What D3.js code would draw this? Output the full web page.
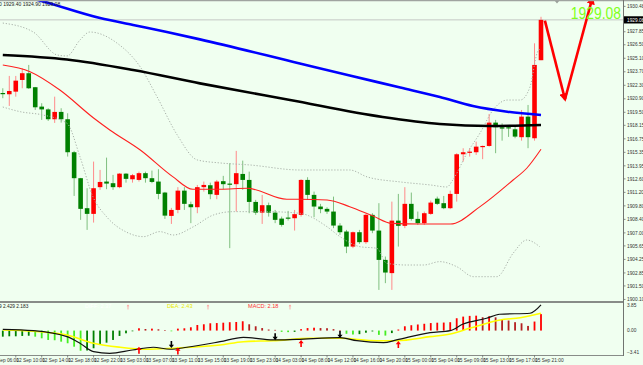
<!DOCTYPE html>
<html>
<head>
<meta charset="utf-8">
<script src="https://cdn.jsdelivr.net/npm/d3@7"></script>
<style>
  html, body { margin: 0; padding: 0; background: #f0fff0; overflow: hidden; }
  svg { display: block; font-family: "Liberation Sans", Arial, sans-serif; }
</style>
</head>
<body>
<svg id="chart"></svg>
<script>
//**** DATA ****//
// hourly candles, bar 0 = 12 Sep 08:00 ... bar 83 = 15 Sep 22:00
const opens = [1921.50,1921.37,1921.64,1922.85,1923.55,1922.10,1920.09,1919.80,1918.78,1919.54,
  1918.78,1915.36,1912.67,1909.56,1908.97,1911.74,1912.32,1912.15,1911.74,1913.14,
  1912.56,1912.49,1913.19,1912.67,1912.32,1911.18,1908.76,1909.38,1911.38,1909.97,
  1909.66,1911.74,1911.94,1910.94,1912.36,1912.11,1912.05,1913.11,1912.49,1910.21,
  1909.10,1909.87,1909.10,1908.48,1908.59,1908.52,1908.87,1912.49,1910.94,1909.73,
  1909.49,1909.21,1907.76,1907.14,1905.58,1907.07,1906.04,1908.87,1907.24,1904.20,
  1902.83,1908.27,1907.73,1910.01,1908.45,1908.01,1908.97,1910.55,1910.08,1909.56,
  1911.04,1915.15,1915.32,1915.36,1915.94,1916.01,1918.43,1917.95,1917.95,1917.74,
  1916.92,1919.05,1916.81,1924.90];
const highs = [1921.99,1923.27,1923.27,1924.06,1924.41,1922.13,1920.44,1919.92,1921.12,1919.92,
  1919.40,1915.50,1912.70,1911.63,1914.39,1913.53,1914.80,1913.01,1913.19,1913.19,
  1913.11,1913.35,1913.35,1913.46,1913.60,1911.25,1909.59,1911.74,1911.74,1910.24,
  1911.97,1912.32,1912.21,1912.49,1912.91,1914.22,1915.50,1914.49,1913.35,1910.42,
  1910.94,1910.14,1909.38,1908.69,1909.28,1909.38,1912.56,1912.77,1911.28,1910.01,
  1909.66,1910.76,1908.01,1907.31,1907.14,1907.31,1908.97,1909.04,1910.08,1904.55,
  1910.24,1911.04,1911.74,1911.18,1909.21,1909.21,1910.35,1910.76,1910.83,1911.38,
  1915.26,1915.77,1915.77,1916.46,1916.05,1919.33,1918.71,1918.36,1918.09,1918.01,
  1919.74,1920.26,1926.65,1929.40];
const lows = [1920.96,1920.16,1921.12,1921.99,1921.92,1919.74,1918.71,1918.60,1918.40,1918.43,
  1914.91,1910.83,1908.35,1907.31,1908.07,1911.46,1911.53,1911.46,1911.63,1912.21,
  1912.21,1912.32,1912.21,1912.15,1910.49,1908.45,1907.93,1909.04,1909.38,1908.01,
  1909.04,1911.28,1910.49,1910.49,1911.53,1905.42,1909.21,1911.46,1909.04,1908.87,
  1907.93,1908.69,1908.01,1907.65,1908.28,1907.24,1908.69,1910.42,1908.63,1909.04,
  1908.97,1907.49,1906.79,1904.90,1905.42,1905.86,1905.86,1906.97,1901.09,1901.79,
  1901.09,1905.58,1907.49,1908.27,1907.83,1907.83,1908.87,1909.90,1909.46,1909.46,
  1910.24,1914.39,1914.91,1915.08,1914.64,1915.94,1915.26,1916.56,1916.95,1916.81,
  1916.56,1915.78,1916.56,1924.90];
const closes = [1921.42,1921.71,1922.78,1923.55,1921.99,1920.02,1919.80,1918.78,1919.54,1918.78,
  1915.36,1912.67,1909.49,1908.97,1911.63,1912.28,1912.11,1911.74,1913.14,1912.60,
  1912.98,1913.19,1912.67,1912.28,1911.04,1908.79,1909.38,1911.38,1910.01,1909.66,
  1911.74,1911.97,1911.01,1912.32,1912.05,1912.05,1913.19,1912.49,1910.21,1909.10,
  1909.87,1909.10,1908.35,1907.83,1908.48,1908.94,1912.49,1910.94,1909.73,1909.46,
  1909.21,1907.76,1907.07,1905.58,1907.07,1906.04,1908.87,1907.24,1904.20,1902.89,
  1908.27,1907.73,1910.01,1908.45,1908.01,1909.04,1910.14,1910.01,1909.56,1911.04,
  1915.15,1915.36,1915.42,1915.94,1916.01,1918.43,1917.95,1917.81,1917.88,1916.98,
  1919.05,1916.92,1924.41,1929.08];

// indicator lines, read as [bar, value]
const maBlue = [[0,1932.03],[5.4,1931.14],[15,1929.27],[20.1,1928.55],[25.3,1927.82],[30.4,1927.06],
  [45.8,1924.56],[53.5,1923.31],[61.3,1922.07],[67.4,1921.09],[72.5,1920.15],[77.8,1919.56],[83,1919.22]];
const maBlack = [[0,1925.44],[9.9,1924.97],[20.1,1923.88],[30.4,1922.50],[44.3,1920.77],
  [58.6,1919.01],[67.4,1918.29],[75.1,1918.08],[83,1918.18]];
const maRed = [[0,1924.40],[4.2,1923.71],[8.8,1921.81],[14,1918.91],[16.5,1917.67],[21.2,1915.59],
  [26.2,1912.83],[29.3,1911.52],[33.5,1911.52],[37.7,1911.62],[43.8,1910.48],[45.8,1910.48],[50,1910.41],
  [53.5,1909.72],[57.1,1908.75],[60,1907.99],[64.3,1907.92],[69,1907.92],[73.6,1909.72],[78.7,1912.48],
  [80.8,1913.70],[83,1915.67]];
const bandUpper = [[0,1928.75],[4.7,1927.82],[8.4,1925.44],[9.9,1925.34],[11.9,1926.99],[13.4,1927.82],
  [17.6,1926.68],[21.2,1924.20],[23.8,1921.09],[26.9,1917.15],[30,1914.56],[33.5,1914.25],[38.1,1914.04],
  [45.8,1913.52],[53.5,1913.52],[56.2,1912.80],[61.3,1912.28],[65.9,1911.97],[68.5,1911.76],[69.4,1912.49],
  [71.6,1915.28],[73.6,1917.35],[75.6,1919.74],[77.8,1920.77],[79.8,1920.77],[81.3,1922.12],[82.4,1925.64],
  [83,1926.16]];
const bandLower = [[0,1920.05],[2.7,1919.56],[6.2,1919.22],[9.9,1918.36],[11.9,1914.90],[13.9,1910.75],
  [16,1908.68],[19.1,1907.07],[21.7,1906.61],[24.2,1907.13],[26.3,1906.78],[29.4,1907.64],[32.5,1908.86],
  [35.5,1909.20],[40.7,1909.20],[45.8,1909.03],[50,1907.64],[52,1906.61],[55.1,1905.57],[57.7,1905.40],
  [59.2,1903.85],[62.3,1903.67],[64.9,1903.67],[67.4,1904.02],[70,1903.50],[72.6,1902.46],[76.2,1902.46],
  [78.7,1904.89],[80.8,1906.26],[82.8,1905.57]];

// MACD sub window
const macdHist = [-0.85,-0.80,-0.80,-0.75,-0.72,-0.85,-1.08,-1.31,-1.35,-1.55,
  -1.77,-2.25,-2.81,-2.78,-2.47,-2.01,-1.69,-1.31,-0.75,-0.38,
  -0.10,0.32,0.22,0.27,0.18,0.08,-0.10,0.27,0.32,0.46,
  0.78,0.88,1.02,1.05,1.10,1.17,1.20,1.30,0.88,0.60,
  0.35,0.15,0.10,-0.18,-0.22,-0.18,0.20,0.35,0.40,0.35,
  0.33,0.20,0.08,-0.45,-0.55,-0.50,-0.30,-0.12,-0.60,-0.70,
  -0.35,0.15,0.60,0.75,0.85,0.95,1.05,1.10,1.12,1.17,
  1.72,1.95,2.05,2.08,1.86,2.00,1.85,1.58,1.40,1.17,
  1.02,0.65,1.26,2.30];
const diffLine = [[0,0.18],[4.7,0],[9.9,-0.85],[11.9,-1.77],[14,-2.95],[16.5,-3.17],[20,-2.71],
  [23.2,-2.33],[25.8,-2.61],[28.4,-2.33],[33.5,-1.55],[37.1,-0.94],[41.7,-1.31],[45.3,-1.22],
  [52,-0.99],[54.6,-1.41],[58.7,-1.69],[60.7,-1.31],[65.9,-0.29],[69,0],[71,0.92],[74.6,1.72],
  [76.6,2.28],[81.3,2.42],[83,3.58]];
const deaLine = [[0,0.08],[4.7,-0.10],[9.9,-0.61],[14,-1.77],[18.1,-2.33],[22.2,-2.61],[26.2,-2.47],
  [33.5,-2.01],[37.1,-1.55],[41.7,-1.41],[47.4,-1.08],[52,-1.08],[57.7,-1.41],[60.7,-1.41],
  [65.9,-0.85],[69,-0.47],[72,0.32],[76.7,1.48],[79.8,1.80],[83,2.42]];
const crossSignals = [{bar:21,v:-2.25,dir:'up'},{bar:26,v:-2.45,dir:'down'},{bar:27,v:-2.35,dir:'up'},
  {bar:42,v:-1.35,dir:'down'},{bar:46,v:-1.30,dir:'up'},{bar:52,v:-1.05,dir:'down'},{bar:61,v:-1.45,dir:'up'}];

// axes
const priceTicks = [1930.48,1927.85,1926.50,1925.10,1923.70,1922.30,1920.90,1919.50,1918.15,1916.75,
  1915.35,1913.95,1912.60,1911.20,1909.80,1908.40,1907.00,1905.65,1904.25,1902.85,1901.50,1900.10];
const macdTicks = [3.85, 0.00, -3.41];
const timeLabels = ['12 Sep 06:00','12 Sep 10:00','12 Sep 14:00','12 Sep 18:00','12 Sep 22:00',
  '13 Sep 03:00','13 Sep 07:00','13 Sep 11:00','13 Sep 15:00','13 Sep 19:00','13 Sep 23:00',
  '14 Sep 03:00','14 Sep 08:00','14 Sep 12:00','14 Sep 16:00','14 Sep 20:00','15 Sep 00:00',
  '15 Sep 04:00','15 Sep 09:00','15 Sep 13:00','15 Sep 17:00','15 Sep 21:00'];
const bidPrice = 1929.08;
// hand drawn arrow object on the chart: [bar, price]
const drawnArrow = [[83.6,1929.0],[86.7,1920.85],[90.9,1931.3]];

//**** LAYOUT ****//
const width = 643, height = 365;
const axisX = 623;
const mainTop = 0, mainBottom = 301, subTop = 303, subBottom = 355;

const svg = d3.select('#chart').attr('width', width).attr('height', height);
svg.append('rect').attr('width', width).attr('height', height).attr('fill', '#f0fff0');

const defs = svg.append('defs');
defs.append('clipPath').attr('id', 'clipMain')
  .append('rect').attr('x', 0).attr('y', mainTop).attr('width', axisX).attr('height', mainBottom - mainTop);
defs.append('clipPath').attr('id', 'clipSub')
  .append('rect').attr('x', 0).attr('y', subTop).attr('width', axisX).attr('height', subBottom - subTop);
defs.append('marker').attr('id', 'head')
  .attr('viewBox', '0 0 10 10').attr('refX', 7).attr('refY', 5)
  .attr('markerWidth', 3.2).attr('markerHeight', 3.2).attr('orient', 'auto')
  .append('path').attr('d', 'M0,0 L10,5 L0,10 z').attr('fill', '#ff0000');

const x = d3.scaleLinear().domain([0, 83]).range([2.8, 541]);
const y = d3.scaleLinear().domain([1899.94, 1931.14]).range([mainBottom, mainTop]);
const ym = d3.scaleLinear().domain([-3.41, 3.85]).range([subBottom, subTop]);

const candles = opens.map((o, i) => ({i: i, o: o, h: highs[i], l: lows[i], c: closes[i]}));

//**** MAIN WINDOW ****//
const main = svg.append('g').attr('clip-path', 'url(#clipMain)');

// bid line
main.append('line').attr('x1', 0).attr('x2', axisX)
  .attr('y1', y(bidPrice)).attr('y2', y(bidPrice))
  .attr('stroke', '#c4c8c4').attr('stroke-width', 1);

const bar = main.selectAll('g.candle').data(candles).enter().append('g').attr('class', 'candle');
bar.append('line')
  .attr('x1', d => x(d.i)).attr('x2', d => x(d.i))
  .attr('y1', d => y(d.h)).attr('y2', d => y(d.l))
  .attr('stroke', d => d.c > d.o ? '#ff8a8a' : '#7fbf7f').attr('stroke-width', 1);
bar.append('rect')
  .attr('x', d => x(d.i) - 2.3).attr('width', 4.6)
  .attr('y', d => y(Math.max(d.o, d.c)))
  .attr('height', d => Math.max(1.2, Math.abs(y(d.o) - y(d.c))))
  .attr('fill', d => d.c > d.o ? '#ff0000' : '#008000');

const line = d3.line().x(d => x(d[0])).y(d => y(d[1])).curve(d3.curveMonotoneX);
main.append('path').attr('d', line(bandUpper)).attr('fill', 'none')
  .attr('stroke', '#a8b0a8').attr('stroke-width', 1).attr('stroke-dasharray', '1.2,1.8');
main.append('path').attr('d', line(bandLower)).attr('fill', 'none')
  .attr('stroke', '#a8b0a8').attr('stroke-width', 1).attr('stroke-dasharray', '1.2,1.8');
main.append('path').attr('d', line(maRed)).attr('fill', 'none')
  .attr('stroke', '#ff2020').attr('stroke-width', 1.1);
main.append('path').attr('d', line(maBlack)).attr('fill', 'none')
  .attr('stroke', '#000000').attr('stroke-width', 2.6);
main.append('path').attr('d', line(maBlue)).attr('fill', 'none')
  .attr('stroke', '#0000ff').attr('stroke-width', 2.6);

// drawn arrows
const ap = drawnArrow.map(d => [x(d[0]), y(d[1])]);
for (let k = 0; k < ap.length - 1; k++) {
  main.append('line')
    .attr('x1', ap[k][0]).attr('y1', ap[k][1]).attr('x2', ap[k + 1][0]).attr('y2', ap[k + 1][1])
    .attr('stroke', '#ff0000').attr('stroke-width', 2.6).attr('marker-end', 'url(#head)');
}

// big price text
main.append('text').attr('transform', 'translate(621,18.5) scale(1,1.17)').attr('text-anchor', 'end')
  .attr('font-size', 13.9).attr('fill', '#7fff1a').text(d3.format('.2f')(bidPrice));

// top info text and small marker
svg.append('text').attr('x', -1).attr('y', 6.2).attr('font-size', 5).attr('fill', '#222')
  .text('0 1929.40 1924.90 1929.08');
svg.append('path').attr('d', 'M554.5,0.5 L559.5,0.5 L557,3.5 z').attr('fill', '#9aa09a');
svg.append('line').attr('x1', 0).attr('x2', width).attr('y1', 0.6).attr('y2', 0.6)
  .attr('stroke', '#a0a4a0').attr('stroke-width', 1.4);

//**** MACD WINDOW ****//
const sub = svg.append('g').attr('clip-path', 'url(#clipSub)');
const histColor = (v, i) => {
  const prev = i > 0 ? macdHist[i - 1] : v;
  if (v >= 0) return v >= prev ? '#ff0000' : '#b42020';
  return v < prev ? '#44ee22' : '#008000';
};
sub.selectAll('rect.hist').data(macdHist).enter().append('rect').attr('class', 'hist')
  .attr('x', (d, i) => x(i) - 0.9).attr('width', 1.8)
  .attr('y', d => Math.min(ym(0), ym(d)))
  .attr('height', d => Math.abs(ym(d) - ym(0)))
  .attr('fill', (d, i) => histColor(d, i));

const mline = d3.line().x(d => x(d[0])).y(d => ym(d[1])).curve(d3.curveMonotoneX);
sub.append('path').attr('d', mline(deaLine)).attr('fill', 'none')
  .attr('stroke', '#ffff00').attr('stroke-width', 1.6);
sub.append('path').attr('d', mline(diffLine)).attr('fill', 'none')
  .attr('stroke', '#111111').attr('stroke-width', 1.2);

// cross arrows
const arrowPath = dir => dir === 'up'
  ? 'M0,0 L-2.6,3.4 L-0.8,3.4 L-0.8,7 L0.8,7 L0.8,3.4 L2.6,3.4 z'
  : 'M0,0 L-2.6,-3.4 L-0.8,-3.4 L-0.8,-7 L0.8,-7 L0.8,-3.4 L2.6,-3.4 z';
sub.selectAll('path.sig').data(crossSignals).enter().append('path').attr('class', 'sig')
  .attr('transform', d => 'translate(' + x(d.bar) + ',' + ym(d.v) + ')')
  .attr('d', d => arrowPath(d.dir))
  .attr('fill', d => d.dir === 'up' ? '#ff0000' : '#000000');

// sub window header
const hdr = svg.append('g').attr('font-size', 5.6);
hdr.append('text').attr('x', -1).attr('y', 308).attr('font-size', 4.8).attr('fill', '#222').text('9 2.429 2.183');
hdr.append('text').attr('x', 85).attr('y', 308).attr('fill', '#ffffff').text('DIFF:  2.37');
hdr.append('text').attr('x', 167).attr('y', 308).attr('fill', '#e8e800').text('DEA:    2.43');
hdr.append('text').attr('x', 248).attr('y', 308).attr('fill', '#ff3030').text('MACD:  2.18');
[128, 208, 290].forEach(px => {
  hdr.append('path').attr('transform', 'translate(' + px + ',304.5)')
    .attr('d', 'M0,0 L-1.4,1.8 L-0.4,1.8 L-0.4,5 L0.4,5 L0.4,1.8 L1.4,1.8 z').attr('fill', '#ff9a9a');
});

//**** FRAMES AND AXES ****//
svg.append('rect').attr('x', 0).attr('y', mainBottom).attr('width', axisX).attr('height', subTop - mainBottom)
  .attr('fill', '#888c88');
svg.append('line').attr('x1', 0).attr('x2', axisX).attr('y1', subBottom + 0.5).attr('y2', subBottom + 0.5)
  .attr('stroke', '#888c88').attr('stroke-width', 1);
svg.append('line').attr('x1', axisX + 0.5).attr('x2', axisX + 0.5).attr('y1', 0).attr('y2', subBottom + 1)
  .attr('stroke', '#707470').attr('stroke-width', 1);

const axisText = svg.append('g').attr('font-size', 4.8).attr('fill', '#333');
priceTicks.forEach(p => {
  svg.append('line').attr('x1', axisX).attr('x2', axisX + 2.5).attr('y1', y(p)).attr('y2', y(p))
    .attr('stroke', '#707470').attr('stroke-width', 0.8);
  axisText.append('text').attr('x', axisX + 4).attr('y', y(p)).attr('dy', '0.35em').text(d3.format('.2f')(p));
});
svg.append('rect').attr('x', axisX + 1).attr('y', y(bidPrice) - 3.6).attr('width', 20).attr('height', 7.2)
  .attr('fill', '#000');
svg.append('text').attr('x', axisX + 4).attr('y', y(bidPrice)).attr('dy', '0.35em')
  .attr('font-size', 4.8).attr('fill', '#fff').text(d3.format('.2f')(bidPrice));

macdTicks.forEach((v, k) => {
  const shift = k === 0 ? 2.2 : (k === macdTicks.length - 1 ? -2.5 : 0);
  axisText.append('text').attr('x', axisX + 4).attr('y', ym(v) + shift).attr('dy', '0.35em')
    .text(d3.format('.2f')(v));
});

timeLabels.forEach((t, k) => {
  const b = -2 + 4 * k;
  svg.append('line').attr('x1', x(b)).attr('x2', x(b)).attr('y1', subBottom).attr('y2', subBottom + 2.5)
    .attr('stroke', '#707470').attr('stroke-width', 0.8);
  axisText.append('text').attr('x', x(b) + 0.5).attr('y', 362).text(t);
});
</script>
</body>
</html>
